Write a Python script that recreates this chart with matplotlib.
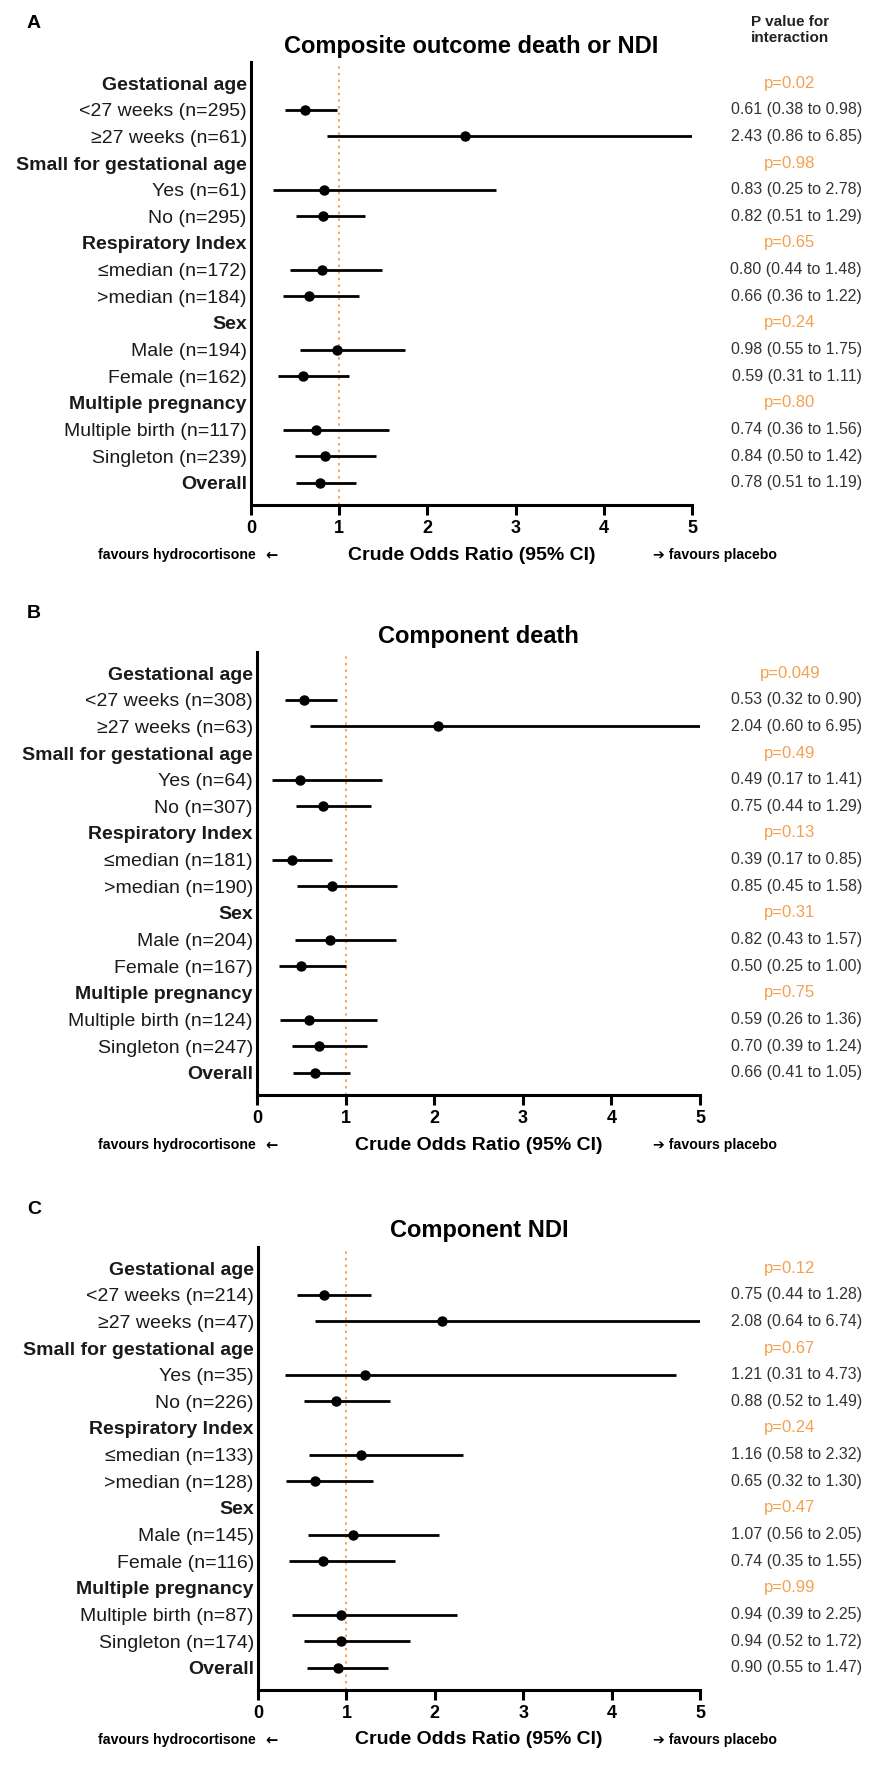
import numpy as np
import matplotlib
matplotlib.use("Agg")
import matplotlib.pyplot as plt
from matplotlib.transforms import blended_transform_factory

plt.rcParams['font.family'] = ['Liberation Sans', 'DejaVu Sans']

W, H = 875, 1766
ORANGE = '#F5A04F'

headers = ["Gestational age", "Small for gestational age", "Respiratory Index",
           "Sex", "Multiple pregnancy"]
sub_names = ["<27 weeks", "\u226527 weeks", "Yes", "No", "\u2264median", ">median",
             "Male", "Female", "Multiple birth", "Singleton"]

# panel A - composite outcome death or NDI
n_a = [295, 61, 61, 295, 172, 184, 194, 162, 117, 239]
or_a = [0.61, 2.43, 0.83, 0.82, 0.80, 0.66, 0.98, 0.59, 0.74, 0.84]
lo_a = [0.38, 0.86, 0.25, 0.51, 0.44, 0.36, 0.55, 0.31, 0.36, 0.50]
hi_a = [0.98, 6.85, 2.78, 1.29, 1.48, 1.22, 1.75, 1.11, 1.56, 1.42]
p_a = ["0.02", "0.98", "0.65", "0.24", "0.80"]
overall_a = [0.78, 0.51, 1.19]

# panel B - component death
n_b = [308, 63, 64, 307, 181, 190, 204, 167, 124, 247]
or_b = [0.53, 2.04, 0.49, 0.75, 0.39, 0.85, 0.82, 0.50, 0.59, 0.70]
lo_b = [0.32, 0.60, 0.17, 0.44, 0.17, 0.45, 0.43, 0.25, 0.26, 0.39]
hi_b = [0.90, 6.95, 1.41, 1.29, 0.85, 1.58, 1.57, 1.00, 1.36, 1.24]
p_b = ["0.049", "0.49", "0.13", "0.31", "0.75"]
overall_b = [0.66, 0.41, 1.05]

# panel C - component NDI
n_c = [214, 47, 35, 226, 133, 128, 145, 116, 87, 174]
or_c = [0.75, 2.08, 1.21, 0.88, 1.16, 0.65, 1.07, 0.74, 0.94, 0.94]
lo_c = [0.44, 0.64, 0.31, 0.52, 0.58, 0.32, 0.56, 0.35, 0.39, 0.52]
hi_c = [1.28, 6.74, 4.73, 1.49, 2.32, 1.30, 2.05, 1.55, 2.25, 1.72]
p_c = ["0.12", "0.67", "0.24", "0.47", "0.99"]
overall_c = [0.90, 0.55, 1.47]

fig = plt.figure(figsize=(W / 100, H / 100), dpi=100)


def fy(y):
    return 1 - y / H


def panel(letter, title, top, bottom, x0, x5, n, orr, lo, hi, pv, overall):
    ax = fig.add_axes([x0 / W, fy(bottom), (x5 - x0) / W, (bottom - top) / H])

    # rows: header, two subgroups, ... , overall
    labels, bold, est, low, high = [], [], [], [], []
    for i, h in enumerate(headers):
        labels.append(h); bold.append(True)
        est.append(np.nan); low.append(np.nan); high.append(np.nan)
        for j in range(2):
            k = 2 * i + j
            labels.append(f"{sub_names[k]} (n={n[k]})"); bold.append(False)
            est.append(orr[k]); low.append(lo[k]); high.append(hi[k])
    labels.append("Overall"); bold.append(True)
    est.append(overall[0]); low.append(overall[1]); high.append(overall[2])
    est, low, high = np.array(est), np.array(low), np.array(high)
    y = np.arange(len(labels))

    ax.axvline(1, color=ORANGE, ls=(0, (1.2, 2.2)), lw=1.4, zorder=0)
    ok = ~np.isnan(est)
    ax.hlines(y[ok], low[ok], high[ok], color='black', lw=2.0, zorder=2)
    ax.plot(est[ok], y[ok], 'o', color='black', ms=6.5, zorder=3)

    ax.set_xlim(0, 5)
    ax.set_ylim(15.83, -0.79)
    for s in ['top', 'right']:
        ax.spines[s].set_visible(False)
    for s in ['left', 'bottom']:
        ax.spines[s].set_linewidth(2.2)
    ax.set_xticks(range(6))
    ax.tick_params(axis='x', length=7, width=2.2, pad=4, labelsize=13)
    for t in ax.get_xticklabels():
        t.set_fontweight('bold')
    ax.set_yticks(y)
    ax.set_yticklabels(labels, fontsize=14)
    ax.tick_params(axis='y', length=0, pad=3)
    for t, b in zip(ax.get_yticklabels(), bold):
        t.set_color('#1a1a1a')
        if b:
            t.set_fontweight('bold')

    tr = blended_transform_factory(fig.transFigure, ax.transData)
    for r, p in zip([0, 3, 6, 9, 12], pv):
        ax.text(790 / W, r, f"p={p}", transform=tr, ha='center', va='center',
                color=ORANGE, fontsize=12)
    for r in range(len(labels)):
        if ok[r]:
            ax.text(862 / W, r, f"{est[r]:.2f} ({low[r]:.2f} to {high[r]:.2f})",
                    transform=tr, ha='right', va='center', color='#333333',
                    fontsize=11.5)

    cx = (x0 + x5) / 2
    fig.text(cx / W, fy(top - 16), title, ha='center', va='center',
             fontsize=17, fontweight='bold')
    fig.text(34 / W, fy(top - 38), letter, ha='center', va='center',
             fontsize=14, fontweight='bold')
    yl = bottom + 50
    fig.text(cx / W, fy(yl), "Crude Odds Ratio (95% CI)", ha='center', va='center',
             fontsize=14, fontweight='bold')
    fig.text(98 / W, fy(yl), "favours hydrocortisone", ha='left', va='center',
             fontsize=10.2, fontweight='bold')
    fig.text(271 / W, fy(yl), "\u2190", ha='center', va='center',
             fontsize=10.5, fontweight='bold', family='DejaVu Sans')
    fig.text(653 / W, fy(yl), "\u2794 favours placebo", ha='left', va='center',
             fontsize=10.2, fontweight='bold')
    return ax


panel("A", "Composite outcome death or NDI", 62, 505, 251, 692,
      n_a, or_a, lo_a, hi_a, p_a, overall_a)
panel("B", "Component death", 652, 1095, 257, 700,
      n_b, or_b, lo_b, hi_b, p_b, overall_b)
panel("C", "Component NDI", 1247, 1690, 258, 700,
      n_c, or_c, lo_c, hi_c, p_c, overall_c)

fig.text(790 / W, fy(30), "P value for\ninteraction", ha='center', va='center',
         fontsize=11, fontweight='bold', color='#222222', linespacing=1.15)

fig.savefig("out.png", dpi=100)
